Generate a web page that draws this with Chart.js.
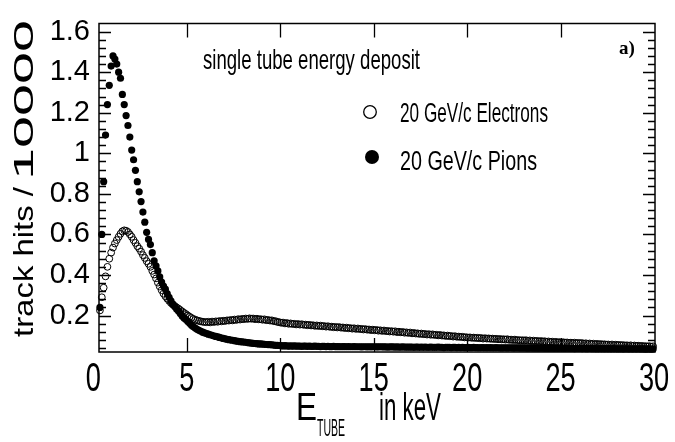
<!DOCTYPE html>
<html>
<head>
<meta charset="utf-8">
<script src="https://cdn.jsdelivr.net/npm/chart.js@4/dist/chart.umd.min.js"></script>
<style>
html, body { margin: 0; padding: 0; background: #fff; }
</style>
</head>
<body>
<canvas id="tubeChart" width="675" height="442"></canvas>
<script>
(function () {
	'use strict';

	// bin centres in keV (0.1 keV bins)
	var binCenters = [
		0.35,0.45,0.55,0.65,0.75,0.85,0.95,
		1.05,1.15,1.25,1.35,1.45,1.55,1.65,1.75,1.85,1.95,
		2.05,2.15,2.25,2.35,2.45,2.55,2.65,2.75,2.85,2.95,
		3.05,3.15,3.25,3.35,3.45,3.55,3.65,3.75,3.85,3.95,
		4.05,4.15,4.25,4.35,4.45,4.55,4.65,4.75,4.85,4.95,
		5.05,5.15,5.25,5.35,5.45,5.55,5.65,5.75,5.85,5.95,
		6.05,6.15,6.25,6.35,6.45,6.55,6.65,6.75,6.85,6.95,
		7.05,7.15,7.25,7.35,7.45,7.55,7.65,7.75,7.85,7.95,
		8.05,8.15,8.25,8.35,8.45,8.55,8.65,8.75,8.85,8.95,
		9.05,9.15,9.25,9.35,9.45,9.55,9.65,9.75,9.85,9.95,
		10.05,10.15,10.25,10.35,10.45,10.55,10.65,10.75,10.85,10.95,
		11.05,11.15,11.25,11.35,11.45,11.55,11.65,11.75,11.85,11.95,
		12.05,12.15,12.25,12.35,12.45,12.55,12.65,12.75,12.85,12.95,
		13.05,13.15,13.25,13.35,13.45,13.55,13.65,13.75,13.85,13.95,
		14.05,14.15,14.25,14.35,14.45,14.55,14.65,14.75,14.85,14.95,
		15.05,15.15,15.25,15.35,15.45,15.55,15.65,15.75,15.85,15.95,
		16.05,16.15,16.25,16.35,16.45,16.55,16.65,16.75,16.85,16.95,
		17.05,17.15,17.25,17.35,17.45,17.55,17.65,17.75,17.85,17.95,
		18.05,18.15,18.25,18.35,18.45,18.55,18.65,18.75,18.85,18.95,
		19.05,19.15,19.25,19.35,19.45,19.55,19.65,19.75,19.85,19.95,
		20.05,20.15,20.25,20.35,20.45,20.55,20.65,20.75,20.85,20.95,
		21.05,21.15,21.25,21.35,21.45,21.55,21.65,21.75,21.85,21.95,
		22.05,22.15,22.25,22.35,22.45,22.55,22.65,22.75,22.85,22.95,
		23.05,23.15,23.25,23.35,23.45,23.55,23.65,23.75,23.85,23.95,
		24.05,24.15,24.25,24.35,24.45,24.55,24.65,24.75,24.85,24.95,
		25.05,25.15,25.25,25.35,25.45,25.55,25.65,25.75,25.85,25.95,
		26.05,26.15,26.25,26.35,26.45,26.55,26.65,26.75,26.85,26.95,
		27.05,27.15,27.25,27.35,27.45,27.55,27.65,27.75,27.85,27.95,
		28.05,28.15,28.25,28.35,28.45,28.55,28.65,28.75,28.85,28.95,
		29.05,29.15,29.25,29.35,29.45,29.55,29.65,29.75,29.85,29.95
	];

	// 20 GeV/c electrons (open circles), track hits / 10000
	var electronHits = [
		0.225,0.29,0.337,0.393,0.44,0.48,0.51,
		0.535,0.555,0.572,0.588,0.603,0.615,0.62,0.618,0.612,0.600,
		0.588,0.572,0.558,0.542,0.53,0.515,0.498,0.484,0.468,0.455,
		0.44,0.42,0.402,0.383,0.362,0.343,0.325,0.308,0.295,0.283,
		0.272,0.262,0.254,0.247,0.24,0.234,0.227,0.22,0.213,0.207,
		0.2,0.194,0.188,0.183,0.179,0.176,0.173,0.171,0.169,0.168,
		0.167,0.169,0.166,0.170,0.168,0.171,0.169,0.173,0.171,0.174,
		0.173,0.176,0.175,0.178,0.176,0.180,0.178,0.182,0.180,0.183,
		0.182,0.185,0.183,0.186,0.184,0.185,0.182,0.184,0.181,0.182,
		0.179,0.181,0.177,0.178,0.175,0.176,0.172,0.172,0.168,0.167,
		0.164,0.165,0.161,0.163,0.159,0.161,0.158,0.159,0.156,0.158,
		0.155,0.157,0.154,0.155,0.152,0.154,0.151,0.152,0.149,0.151,
		0.148,0.150,0.147,0.148,0.145,0.147,0.144,0.145,0.142,0.144,
		0.141,0.143,0.140,0.141,0.138,0.140,0.137,0.138,0.135,0.137,
		0.134,0.136,0.133,0.134,0.131,0.133,0.130,0.131,0.128,0.130,
		0.127,0.129,0.125,0.127,0.124,0.126,0.123,0.124,0.121,0.123,
		0.120,0.122,0.118,0.120,0.117,0.119,0.115,0.117,0.114,0.116,
		0.112,0.114,0.111,0.112,0.109,0.111,0.108,0.109,0.106,0.108,
		0.105,0.107,0.104,0.105,0.102,0.104,0.101,0.102,0.099,0.101,
		0.098,0.099,0.096,0.098,0.095,0.096,0.094,0.095,0.092,0.093,
		0.091,0.092,0.090,0.091,0.089,0.090,0.088,0.089,0.086,0.088,
		0.086,0.087,0.085,0.086,0.084,0.085,0.083,0.084,0.082,0.083,
		0.081,0.083,0.080,0.081,0.079,0.081,0.078,0.079,0.077,0.078,
		0.077,0.078,0.075,0.077,0.074,0.076,0.073,0.075,0.072,0.074,
		0.072,0.073,0.070,0.072,0.069,0.071,0.068,0.070,0.067,0.069,
		0.067,0.068,0.066,0.067,0.065,0.066,0.064,0.066,0.063,0.065,
		0.063,0.064,0.061,0.063,0.060,0.062,0.059,0.061,0.058,0.060,
		0.058,0.059,0.057,0.058,0.056,0.057,0.055,0.057,0.054,0.056,
		0.054,0.055,0.053,0.054,0.052,0.053,0.051,0.053,0.050,0.052,
		0.050,0.051,0.049,0.050,0.048,0.049,0.047,0.049,0.046,0.048
	];

	// 20 GeV/c pions (filled circles), track hits / 10000
	var pionHits = [
		0.24,0.60,0.86,1.09,1.24,1.335,1.43,
		1.48,1.465,1.44,1.40,1.37,1.29,1.24,1.186,1.137,1.08,
		1.016,0.968,0.916,0.86,0.81,0.762,0.71,0.66,0.61,0.575,
		0.55,0.51,0.47,0.445,0.42,0.39,0.365,0.345,0.33,0.308,
		0.29,0.272,0.256,0.244,0.232,0.222,0.21,0.198,0.188,0.18,
		0.17,0.162,0.152,0.144,0.138,0.132,0.127,0.122,0.118,0.114,
		0.111,0.108,0.105,0.102,0.099,0.097,0.095,0.092,0.089,0.087,
		0.085,0.083,0.081,0.079,0.078,0.076,0.074,0.073,0.071,0.070,
		0.069,0.068,0.066,0.065,0.064,0.063,0.062,0.061,0.060,0.060,
		0.059,0.058,0.057,0.056,0.056,0.055,0.054,0.053,0.053,0.052,
		0.051,0.050,0.051,0.050,0.049,0.050,0.049,0.050,0.049,0.049,
		0.049,0.048,0.049,0.049,0.048,0.049,0.048,0.048,0.049,0.048,
		0.048,0.047,0.048,0.048,0.047,0.048,0.047,0.047,0.048,0.047,
		0.047,0.047,0.046,0.047,0.047,0.046,0.047,0.046,0.046,0.047,
		0.046,0.046,0.046,0.045,0.046,0.046,0.045,0.046,0.045,0.046,
		0.046,0.045,0.045,0.046,0.045,0.045,0.045,0.044,0.045,0.045,
		0.045,0.044,0.045,0.044,0.044,0.045,0.044,0.044,0.044,0.044,
		0.044,0.043,0.044,0.044,0.043,0.044,0.043,0.044,0.043,0.043,
		0.044,0.043,0.043,0.043,0.044,0.043,0.043,0.042,0.043,0.043,
		0.043,0.042,0.043,0.043,0.042,0.043,0.042,0.043,0.042,0.042,
		0.043,0.042,0.042,0.043,0.042,0.042,0.041,0.042,0.042,0.041,
		0.042,0.041,0.042,0.041,0.041,0.042,0.041,0.041,0.040,0.041,
		0.041,0.040,0.041,0.041,0.040,0.040,0.041,0.040,0.040,0.040,
		0.040,0.040,0.039,0.040,0.040,0.039,0.040,0.039,0.039,0.040,
		0.039,0.039,0.039,0.038,0.039,0.039,0.038,0.039,0.038,0.039,
		0.039,0.038,0.038,0.039,0.038,0.038,0.038,0.037,0.038,0.038,
		0.038,0.037,0.038,0.037,0.037,0.038,0.037,0.037,0.037,0.036,
		0.037,0.037,0.036,0.037,0.036,0.037,0.036,0.036,0.037,0.036,
		0.036,0.036,0.036,0.035,0.036,0.036,0.035,0.036,0.035,0.036,
		0.035,0.036,0.035,0.035,0.035,0.034,0.035,0.035,0.034,0.035
	];

	var xTickValues = [0, 5, 10, 15, 20, 25, 30];
	var yTickValues = [0.2, 0.4, 0.6, 0.8, 1, 1.2, 1.4, 1.6];

	var titleText = 'single tube energy deposit';
	var legendElectrons = '20 GeV/c Electrons';
	var legendPions = '20 GeV/c Pions';

	function toPoints(ys) {
		return ys.map(function (y, i) { return { x: binCenters[i], y: y }; });
	}

	var sans = '"Liberation Sans", Arial, sans-serif';

	// squeezed text, like the condensed Helvetica of the original
	function squeezed(ctx, text, x, y, sx, align) {
		ctx.save();
		ctx.translate(x, y);
		ctx.scale(sx, 1);
		ctx.textAlign = align || 'left';
		ctx.fillText(text, 0, 0);
		ctx.restore();
	}

	// frame, inside ticks and all the free text ROOT-style
	var rootFrame = {
		id: 'rootFrame',
		afterDatasetsDraw: function (chart) {
			var ctx = chart.ctx;
			var a = chart.chartArea;
			var xs = chart.scales.x;
			var ys = chart.scales.y;
			ctx.save();
			ctx.strokeStyle = '#000';
			ctx.fillStyle = '#000';
			ctx.lineWidth = 1.5;
			ctx.strokeRect(a.left, a.top, a.right - a.left, a.bottom - a.top);

			ctx.lineWidth = 1.3;
			ctx.beginPath();
			for (var k = 1; k <= 41; k++) {
				var v = k * 0.04;
				if (v < ys.min || v > ys.max) { continue; }
				var py = Math.round(ys.getPixelForValue(v)) + 0.5;
				var len = (k % 5 === 0) ? 12 : 7;
				ctx.moveTo(a.left, py); ctx.lineTo(a.left + len, py);
				ctx.moveTo(a.right, py); ctx.lineTo(a.right - len, py);
			}
			for (var t = 5; t < 30; t += 5) {
				var px = Math.round(xs.getPixelForValue(t)) + 0.5;
				ctx.moveTo(px, a.bottom); ctx.lineTo(px, a.bottom - 14);
				ctx.moveTo(px, a.top); ctx.lineTo(px, a.top + 14);
			}
			ctx.stroke();

			ctx.textBaseline = 'alphabetic';
			ctx.textAlign = 'left';

			// x tick labels (tall, condensed)
			ctx.font = '40px ' + sans;
			xs.ticks.forEach(function (tk) {
				squeezed(ctx, String(tk.value), xs.getPixelForValue(tk.value), 391, 0.68, 'center');
			});

			// title
			ctx.font = '28px ' + sans;
			ctx.fillText(titleText, 203, 69, 217);

			// legend
			ctx.beginPath();
			ctx.lineWidth = 1.3;
			ctx.arc(370, 112, 6.3, 0, Math.PI * 2);
			ctx.stroke();
			ctx.beginPath();
			ctx.arc(372, 157, 7, 0, Math.PI * 2);
			ctx.fill();
			ctx.font = '27px ' + sans;
			ctx.fillText(legendElectrons, 400, 122, 148);
			ctx.fillText(legendPions, 400, 170, 137);

			// panel label
			ctx.font = 'bold 19px "Liberation Serif", "Times New Roman", serif';
			ctx.fillText('a)', 619, 54);

			// x axis title with subscript
			ctx.font = '38px ' + sans;
			ctx.fillText('E', 296, 420, 21);
			ctx.font = '24px ' + sans;
			ctx.fillText('TUBE', 317, 436, 28);
			ctx.font = '38px ' + sans;
			ctx.fillText('in keV', 379, 420, 62);

			// y axis title, rotated
			ctx.translate(33, 337);
			ctx.rotate(-Math.PI / 2);
			ctx.font = '28px ' + sans;
			var p1 = 'track hits /';
			squeezed(ctx, p1, 0, 0, 150 / ctx.measureText(p1).width);
			var p2 = '10000';
			squeezed(ctx, p2, 157, 0, 160 / ctx.measureText(p2).width);

			ctx.restore();
		}
	};

	var ctx = document.getElementById('tubeChart').getContext('2d');
	new Chart(ctx, {
		type: 'scatter',
		data: {
			datasets: [
				{
					label: legendPions,
					data: toPoints(pionHits),
					order: 0,
					pointStyle: 'circle',
					pointRadius: 3.6,
					backgroundColor: '#000',
					borderColor: '#000',
					borderWidth: 0,
					clip: false
				},
				{
					label: legendElectrons,
					data: toPoints(electronHits),
					order: 1,
					pointStyle: 'circle',
					pointRadius: 3.4,
					backgroundColor: 'rgba(0,0,0,0)',
					borderColor: '#000',
					borderWidth: 1,
					clip: false
				}
			]
		},
		options: {
			responsive: false,
			animation: false,
			events: [],
			layout: { padding: { top: 17, right: 20, bottom: 0, left: 0 } },
			plugins: {
				legend: { display: false },
				tooltip: { enabled: false }
			},
			scales: {
				x: {
					type: 'linear',
					min: 0.3,
					max: 30.05,
					afterBuildTicks: function (scale) {
						scale.ticks = xTickValues.map(function (v) { return { value: v }; });
					},
					afterFit: function (scale) { scale.height = 90; },
					grid: { display: false, drawTicks: false },
					border: { display: false },
					ticks: { display: false }
				},
				y: {
					type: 'linear',
					min: 0.02,
					max: 1.64,
					afterBuildTicks: function (scale) {
						scale.ticks = yTickValues.map(function (v) { return { value: v }; });
					},
					afterFit: function (scale) { scale.width = 99; },
					grid: { display: false, drawTicks: false },
					border: { display: false },
					ticks: {
						autoSkip: false,
						padding: 9,
						color: '#000',
						font: { family: sans, size: 29, lineHeight: 1 },
						callback: function (v) { return String(Math.round(v * 10) / 10); }
					}
				}
			}
		},
		plugins: [rootFrame]
	});
})();
</script>
</body>
</html>
